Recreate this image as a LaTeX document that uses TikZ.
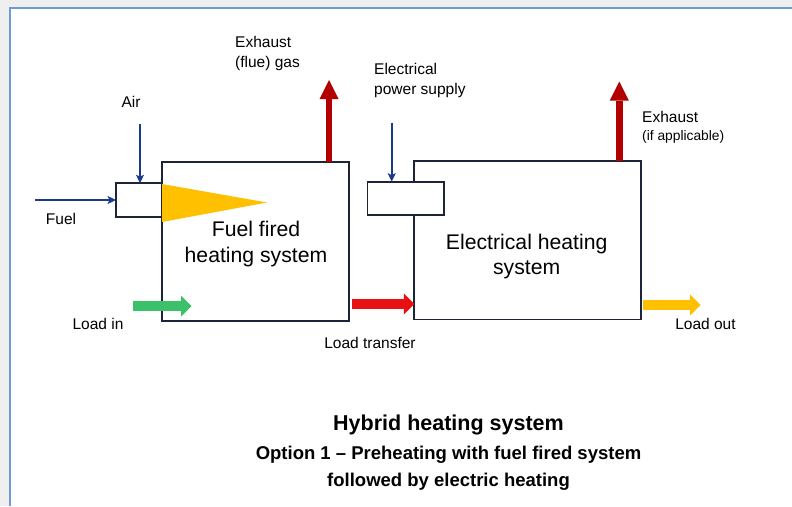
\documentclass[tikz,border=0pt]{standalone}
\usepackage{fontspec}
\setmainfont{Liberation Sans}
\usetikzlibrary{arrows.meta}
\definecolor{navy}{HTML}{1A3A8A}
\definecolor{boxline}{HTML}{1E2438}
\definecolor{flame}{HTML}{FFC000}
\definecolor{exred}{HTML}{B20000}
\definecolor{trred}{HTML}{E81010}
\definecolor{ldgreen}{HTML}{3CC06A}
\definecolor{frameblue}{HTML}{6D9BD6}
\definecolor{bggray}{HTML}{EFEFEF}
\begin{document}
\begin{tikzpicture}[x=1pt,y=-1pt,
  sysbox/.style={draw=boxline, line width=1.7pt, fill=white, inner sep=0pt, outer sep=0pt},
  thinarrow/.style={draw=navy, line width=1.8pt, -{Stealth[length=8.5pt,width=8pt,inset=2pt]}},
  exarrow/.style={draw=exred, line width=6.5pt, -{Triangle[length=19pt,width=19pt,line width=0pt]}},
  loadarrow/.style={line width=10pt, -{Triangle[length=10.5pt,width=21pt,line width=0pt]}},
  lbl/.style={inner sep=0pt, anchor=base, font=\fontsize{15.5}{18}\selectfont},
  lblw/.style={lbl, anchor=base west},
  boxtxt/.style={inner sep=0pt, anchor=base, font=\fontsize{21.2}{24}\selectfont},
  ttl/.style={inner sep=0pt, anchor=base, font=\bfseries\fontsize{18.5}{22}\selectfont}]
\useasboundingbox (0,0) rectangle (792,506);
\fill[bggray] (0,0) rectangle (792,506);
\fill[white] (9.5,7.5) rectangle (792,506);
\draw[frameblue, line width=2pt] (792,7.5) -- (9.5,7.5) -- (9.5,506);

% systems
\node[sysbox, minimum width=187pt, minimum height=159pt] (box1) at (255.5,241.5) {};
\node[sysbox, minimum width=46pt, minimum height=33.5pt] (burner) at (139,200) {};
\node[sysbox, minimum width=226.5pt, minimum height=158.3pt] (box2) at (527.5,240.2) {};
\node[sysbox, minimum width=76.3pt, minimum height=33.3pt] (elecbox) at (405.5,198.3) {};

% flame
\coordinate (flametop) at (162,184);
\coordinate (flametip) at (267,202.5);
\coordinate (flamebot) at (162,222);
\fill[flame] (flametop) -- (flametip) -- (flamebot) -- cycle;

% thin inputs
\coordinate (fuelstart) at (35,200);
\coordinate (airstart) at (140,124);
\coordinate (elecstart) at (391.7,122.7);
\draw[thinarrow] (fuelstart) -- (burner.west);
\draw[thinarrow] (airstart) -- (airstart |- burner.north);
\draw[thinarrow] (elecstart) -- (elecstart |- elecbox.north);

% exhausts
\coordinate (ex1top) at (329,80);
\coordinate (ex2top) at (619.3,81.5);
\draw[exarrow] (box1.north -| ex1top) -- (ex1top);
\draw[exarrow] (box2.north -| ex2top) -- (ex2top);

% load arrows
\coordinate (lin0) at (133,306);
\coordinate (lin1) at (191.5,306);
\draw[loadarrow, draw=ldgreen] (lin0) -- (lin1);
\coordinate (lt0) at (352,304);
\draw[loadarrow, draw=trred] (lt0) -- (lt0 -| box2.west);
\coordinate (lo0) at (642.7,305);
\coordinate (lo1) at (700.7,305);
\draw[loadarrow, draw=flame] (lo0) -- (lo1);

% labels
\node[lblw] (exh1a) at (235,47.5) {Exhaust};
\node[lblw] (exh1b) at (235,67.5) {(flue) gas};
\node[lbl] (air) at (131,107) {Air};
\node[lbl] (fuel) at (61,224) {Fuel};
\node[lbl] (loadin) at (98,329) {Load in};
\node[lbl] (loadtr) at (370,348) {Load transfer};
\node[lblw] (eps1) at (374,74.5) {Electrical};
\node[lblw] (eps2) at (374,94.5) {power supply};
\node[lblw] (exh2a) at (642,122.5) {Exhaust};
\node[lblw, font=\fontsize{13.8}{16}\selectfont] (exh2b) at (642,140) {(if applicable)};
\node[lbl] (loadout) at (705.5,329.5) {Load out};

\node[boxtxt] (b1t1) at (256,236.5) {Fuel fired};
\node[boxtxt] (b1t2) at (256,262.5) {heating system};
\node[boxtxt] (b2t1) at (526.7,249) {Electrical heating};
\node[boxtxt] (b2t2) at (526.7,274.5) {system};

% title
\node[ttl, font=\bfseries\fontsize{21.5}{24}\selectfont] (title) at (448.5,430) {Hybrid heating system};
\node[ttl] (sub1) at (448.5,459) {Option 1 – Preheating with fuel fired system};
\node[ttl] (sub2) at (448.5,486.5) {followed by electric heating};
\end{tikzpicture}
\end{document}
